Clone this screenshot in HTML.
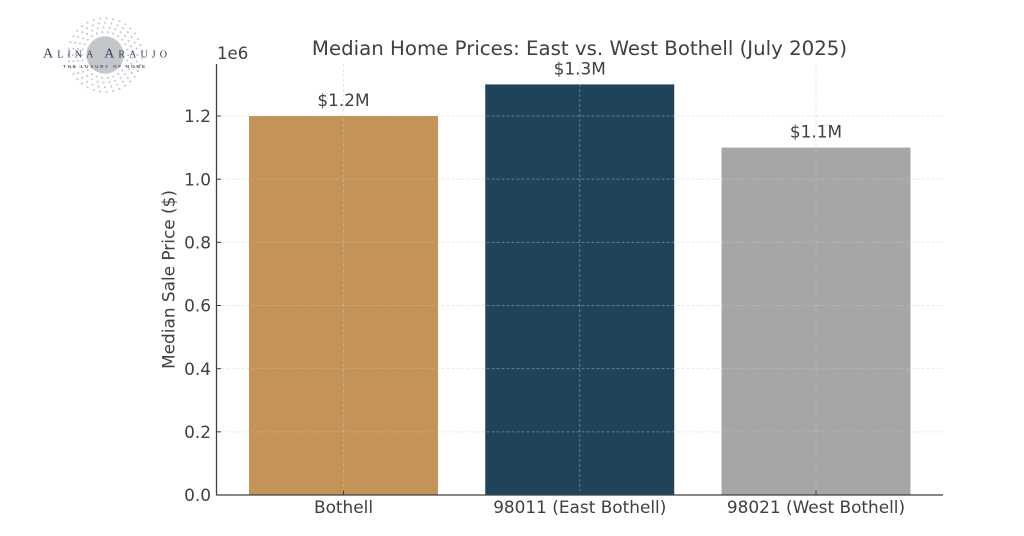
<!DOCTYPE html>
<html>
<head>
<meta charset="utf-8">
<style>
html,body{margin:0;padding:0;background:#fff;width:1024px;height:536px;overflow:hidden}
svg{display:block}
text{font-family:"DejaVu Sans","Liberation Sans",sans-serif;fill:#404040}
</style>
</head>
<body>
<svg id="chart" width="1024" height="536" viewBox="0 0 1024 536" xmlns="http://www.w3.org/2000/svg">
  <rect width="1024" height="536" fill="#ffffff"/>
  <g id="logo">
    <g id="logo-dots"></g>
    <circle cx="105" cy="55" r="18.7" fill="#c3c6cb"/>
    <text x="43" y="57.5" textLength="124" lengthAdjust="spacing" style="font-family:'Liberation Serif',serif;font-size:14px;font-variant:small-caps;fill:#33405a">Alina Araujo</text>
    <text x="63" y="68" textLength="82" lengthAdjust="spacing" style="font-family:'Liberation Sans',sans-serif;font-size:4.5px;font-weight:bold;fill:#555c6a">THE LUXURY OF HOME</text>
  </g>
  <text x="579.5" y="55" text-anchor="middle" font-size="19.75">Median Home Prices: East vs. West Bothell (July 2025)</text>
  <text x="217" y="59" font-size="16.6">1e6</text>
  <text transform="translate(174.5,279.5) rotate(-90)" text-anchor="middle" font-size="16.9">Median Sale Price ($)</text>
  <g id="bars"></g>
  <g id="grid"></g>
  <g id="labels"></g>
  <g id="axes"></g>
</svg>
<script>
var categories = ["Bothell", "98011 (East Bothell)", "98021 (West Bothell)"];
var medianPrices = [1200000, 1300000, 1100000];
var valueLabels = ["$1.2M", "$1.3M", "$1.1M"];
var barColors = ["#c49358", "#1f4459", "#a6a6a6"];
var yTicks = [0, 200000, 400000, 600000, 800000, 1000000, 1200000];
var yTickLabels = ["0.0", "0.2", "0.4", "0.6", "0.8", "1.0", "1.2"];

var NS = "http://www.w3.org/2000/svg";
var plot = { left: 216.5, right: 943, top: 64, bottom: 495 };
var PX_PER_UNIT = 379 / 1200000;
var BAND = 236.25;
var BAR_WIDTH = 189;
var FIRST_CENTER = 343.5;

function yScale(v) { return plot.bottom - v * PX_PER_UNIT; }
function xScale(i) { return FIRST_CENTER + i * BAND; }
function make(tag, attrs, parent) {
  var el = document.createElementNS(NS, tag);
  for (var k in attrs) { el.setAttribute(k, attrs[k]); }
  parent.appendChild(el);
  return el;
}

var barsG = document.getElementById("bars");
var gridG = document.getElementById("grid");
var labelsG = document.getElementById("labels");
var axesG = document.getElementById("axes");
var dotsG = document.getElementById("logo-dots");

medianPrices.forEach(function (v, i) {
  var bar = make("rect", { x: xScale(i) - BAR_WIDTH / 2, y: yScale(v), width: BAR_WIDTH, height: plot.bottom - yScale(v), fill: barColors[i] }, barsG);
  
  

  var label = make("text", { x: xScale(i), y: yScale(v) - 10, "text-anchor": "middle", "font-size": 16.9 }, labelsG);
  label.textContent = valueLabels[i];
  
  

  var vGrid = make("line", { x1: xScale(i), x2: xScale(i), y1: plot.top, y2: plot.bottom, stroke: "#c8c8c8", "stroke-opacity": 0.42, "stroke-width": 1, "stroke-dasharray": "3 2" }, gridG);
  
  

  var tick = make("line", { x1: xScale(i), x2: xScale(i), y1: plot.bottom - 4.5, y2: plot.bottom, stroke: "#404040", "stroke-width": 1 }, axesG);
  
  

  var catLabel = make("text", { x: xScale(i), y: 513, "text-anchor": "middle", "font-size": 16.9 }, axesG);
  catLabel.textContent = categories[i];
  
  
});

yTicks.forEach(function (v, i) {
  var y = yScale(v);
  if (v > 0) {
    var hGrid = make("line", { x1: plot.left, x2: plot.right, y1: y, y2: y, stroke: "#c8c8c8", "stroke-opacity": 0.42, "stroke-width": 1, "stroke-dasharray": "3 2" }, gridG);
    
    
  }
  var tick = make("line", { x1: plot.left, x2: plot.left + 4.5, y1: y, y2: y, stroke: "#404040", "stroke-width": 1 }, axesG);
  
  

  var lab = make("text", { x: plot.left - 5.5, y: y + 6.2, "text-anchor": "end", "font-size": 16.9 }, axesG);
  lab.textContent = yTickLabels[i];
  
  
});

var ySpine = make("line", { x1: plot.left, x2: plot.left, y1: plot.top, y2: plot.bottom + 0.5, stroke: "#404040", "stroke-width": 1.3 }, axesG);



var xSpine = make("line", { x1: plot.left, x2: plot.right, y1: plot.bottom, y2: plot.bottom, stroke: "#404040", "stroke-width": 1.3 }, axesG);



for (var ring = 0; ring < 4; ring++) {
  var radius = 23 + ring * 4.6;
  var count = 26 + ring * 3;
  for (var n = 0; n < count; n++) {
    var angle = (n + (ring % 2) * 0.5) / count * Math.PI * 2;
    var dot = make("circle", { cx: 105 + radius * Math.cos(angle), cy: 55 + radius * Math.sin(angle), r: 1.05, fill: "#c4c7cc" }, dotsG);
    
    
  }
}
</script>
</body>
</html>
